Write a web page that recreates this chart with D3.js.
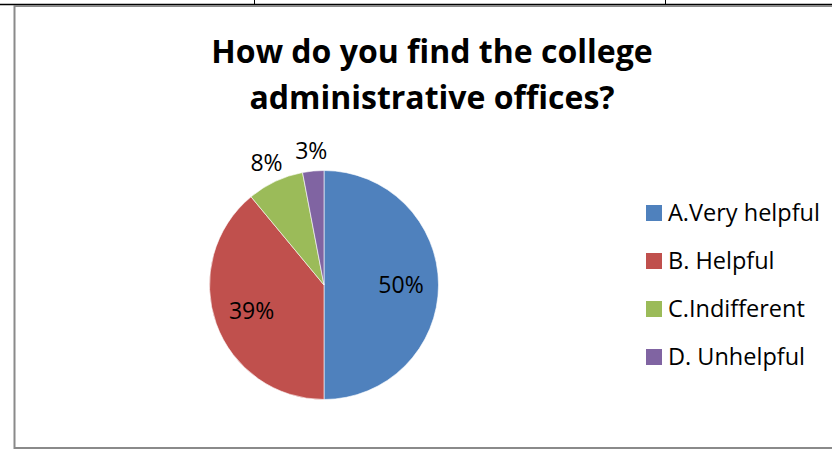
<!DOCTYPE html>
<html>
<head>
<meta charset="utf-8">
<script src="https://cdn.jsdelivr.net/npm/d3@7"></script>
<style>
  html, body { margin: 0; padding: 0; background: #fff; }
  svg { display: block; }
  text { font-family: "Open Sans", "Lato", sans-serif; fill: #000; }
</style>
</head>
<body>
<svg id="chart" width="832" height="451"></svg>
<script>
// Survey responses
const categories = ["A.Very helpful", "B. Helpful", "C.Indifferent", "D. Unhelpful"];
const values = [50, 39, 8, 3];
const colors = ["#4F81BD", "#C0504D", "#9BBB59", "#8064A2"];
const titleLines = ["How do you find the college", "administrative offices?"];
// Small slices get their labels placed outside the pie
const labelOutside = [false, false, true, true];

const svg = d3.select("#chart");

// Surrounding table rule and chart frame
svg.append("line").attr("x1", 0).attr("x2", 832).attr("y1", 4.5).attr("y2", 4.5)
  .attr("stroke", "#000").attr("stroke-width", 1.5);
[254, 665].forEach(x => svg.append("line")
  .attr("x1", x + 0.5).attr("x2", x + 0.5).attr("y1", 0).attr("y2", 4)
  .attr("stroke", "#000").attr("stroke-width", 1));
svg.append("rect")
  .attr("x", 14.5).attr("y", 6).attr("width", 840).attr("height", 442)
  .attr("fill", "none").attr("stroke", "#8a8a8a").attr("stroke-width", 2);

// Title
const title = svg.append("text")
  .attr("text-anchor", "middle")
  .attr("font-size", 32).attr("font-weight", "bold");
titleLines.forEach((t, i) => title.append("tspan")
  .attr("x", 432).attr("y", 63 + i * 46).text(t));

// Pie
const cx = 324, cy = 285, r = 114.5;
const pie = d3.pie().sort(null).value(d => d);
const arcs = pie(values);
const arc = d3.arc().innerRadius(0).outerRadius(r);
const inLabel = d3.arc().innerRadius(77).outerRadius(77);
const outLabel = d3.arc().innerRadius(135).outerRadius(135);
const total = d3.sum(values);

const g = svg.append("g").attr("transform", `translate(${cx},${cy})`);
g.selectAll("path").data(arcs).join("path")
  .attr("d", arc)
  .attr("fill", (d, i) => colors[i])
  .attr("stroke", "#fff").attr("stroke-width", 0.6);

g.selectAll("text.lbl").data(arcs).join("text")
  .attr("class", "lbl")
  .attr("transform", (d, i) => `translate(${(labelOutside[i] ? outLabel : inLabel).centroid(d)})`)
  .attr("text-anchor", "middle")
  .attr("dy", "0.36em")
  .attr("font-size", 23)
  .text(d => Math.round(d.data / total * 100) + "%");

// Legend
const legend = svg.append("g").attr("transform", "translate(646,213)");
const rows = legend.selectAll("g").data(categories).join("g")
  .attr("transform", (d, i) => `translate(0,${i * 48})`);
rows.append("rect").attr("x", 0).attr("y", -8).attr("width", 16).attr("height", 16)
  .attr("fill", (d, i) => colors[i]);
rows.append("text").attr("x", 22).attr("y", 0).attr("dy", "0.34em")
  .attr("font-size", 23.5).text(d => d);
</script>
</body>
</html>
